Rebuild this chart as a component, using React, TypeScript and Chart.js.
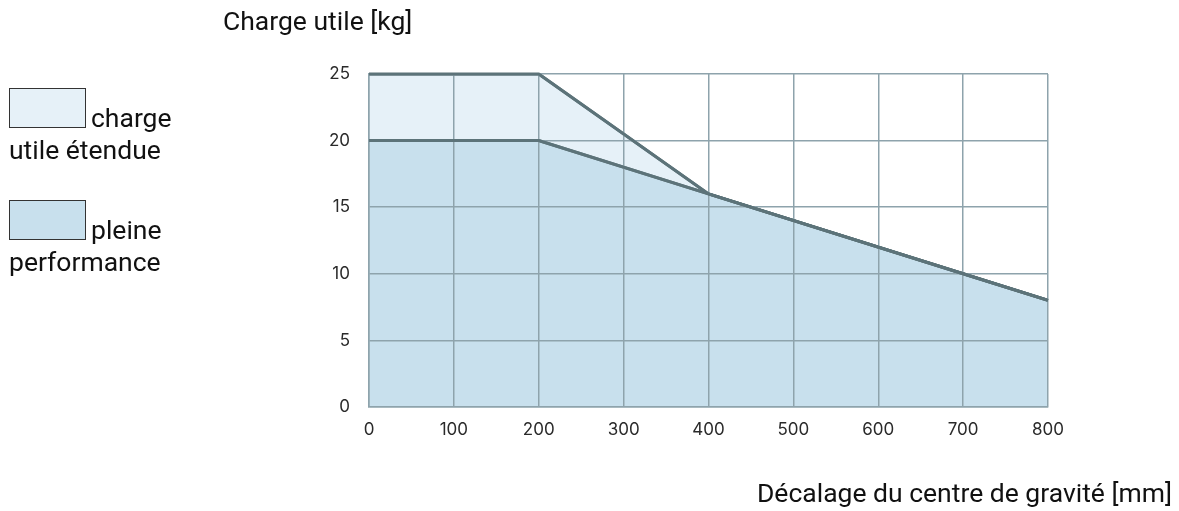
import React, { useEffect, useRef } from "react";
import { Chart, registerables } from "chart.js";

Chart.register(...registerables);

const offsetsFull = [0, 200, 400, 700, 800];
const loadFull = [20, 20, 16, 10, 8];
const offsetsExtended = [0, 200, 400, 800];
const loadExtended = [25, 25, 16, 8];
const xTicks = [0, 100, 200, 300, 400, 500, 600, 700, 800];
const yTicks = [0, 5, 10, 15, 20, 25];

const legendLabels = ["charge utile étendue", "pleine performance"];
const yTitle = "Charge utile [kg]";
const xTitle = "Décalage du centre de gravité [mm]";

const LIGHT = "#e6f1f8";
const DARK = "#c8e0ed";
const LINE = "#5c7379";
const GRID = "#8ea3ac";
const FONT = "Roboto, 'Noto Sans', sans-serif";
const TICK_FONT = "Inter, Roboto, sans-serif";

const linesOnTop = {
  id: "linesOnTop",
  afterDraw(chart: any) {
    const ctx = chart.ctx;
    const a = chart.chartArea;
    ctx.save();
    ctx.beginPath();
    ctx.rect(a.left - 2, a.top - 2, a.right - a.left + 4, a.bottom - a.top + 4);
    ctx.clip();
    for (let i = chart.data.datasets.length - 1; i >= 0; i--) {
      const meta = chart.getDatasetMeta(i);
      if (meta.dataset) meta.dataset.draw(ctx, a);
    }
    ctx.restore();
  },
};

export default function App() {
  const ref = useRef<HTMLCanvasElement>(null);
  useEffect(() => {
    if (!ref.current) return;
    const chart = new Chart(ref.current, {
      type: "line",
      data: {
        datasets: [
          {
            label: legendLabels[1],
            data: offsetsFull.map((x, i) => ({ x, y: loadFull[i] })),
            borderColor: LINE,
            backgroundColor: DARK,
            borderWidth: 3,
            pointRadius: 0,
            fill: "origin",
            tension: 0,
          },
          {
            label: legendLabels[0],
            data: offsetsExtended.map((x, i) => ({ x, y: loadExtended[i] })),
            borderColor: LINE,
            backgroundColor: LIGHT,
            borderWidth: 3,
            pointRadius: 0,
            fill: "origin",
            tension: 0,
          },
        ],
      },
      plugins: [linesOnTop],
      options: {
        animation: false,
        responsive: false,
        maintainAspectRatio: false,
        layout: { padding: { left: 0, top: 74, right: 131, bottom: 0 } },
        plugins: { legend: { display: false }, tooltip: { enabled: false } },
        scales: {
          x: {
            type: "linear",
            min: 0,
            max: 800,
            afterBuildTicks: (s: any) => {
              s.ticks = xTicks.map((v) => ({ value: v }));
            },
            afterFit: (s: any) => {
              s.height = 104;
            },
            grid: { color: GRID, lineWidth: 1.5, drawTicks: false, z: 1 },
            border: { display: true, color: GRID, width: 1.5, z: 1 },
            ticks: { padding: 13, color: "#2a2a2a", font: { family: TICK_FONT, size: 17 }, maxRotation: 0 },
          },
          y: {
            type: "linear",
            min: 0,
            max: 25,
            afterBuildTicks: (s: any) => {
              s.ticks = yTicks.map((v) => ({ value: v }));
            },
            afterFit: (s: any) => {
              s.width = 369;
            },
            grid: { color: GRID, lineWidth: 1.5, drawTicks: false, z: 1 },
            border: { display: true, color: GRID, width: 1.5, z: 1 },
            ticks: { padding: 19, color: "#2a2a2a", font: { family: TICK_FONT, size: 17 } },
          },
        },
      },
    } as any);
    return () => chart.destroy();
  }, []);

  const text: React.CSSProperties = {
    position: "absolute",
    fontFamily: FONT,
    fontSize: 26.5,
    lineHeight: "32px",
    color: "#111",
    whiteSpace: "nowrap",
  };
  const box: React.CSSProperties = {
    position: "absolute",
    left: 9,
    width: 75,
    height: 38,
    border: "1px solid #333",
  };

  return (
    <div style={{ position: "absolute", left: 0, top: 0, width: 1179, height: 511, background: "#fff" }}>
      <canvas ref={ref} width={1179} height={511} style={{ position: "absolute", left: 0, top: 0 }} />
      <div style={{ ...text, left: 223, top: 5 }}>{yTitle}</div>
      <div style={{ ...box, top: 88, background: LIGHT }} />
      <div style={{ ...text, left: 91, top: 102 }}>charge</div>
      <div style={{ ...text, left: 9, top: 134 }}>utile étendue</div>
      <div style={{ ...box, top: 200, background: DARK }} />
      <div style={{ ...text, left: 91, top: 214 }}>pleine</div>
      <div style={{ ...text, left: 9, top: 246 }}>performance</div>
      <div style={{ ...text, right: 7, top: 477 }}>{xTitle}</div>
    </div>
  );
}
